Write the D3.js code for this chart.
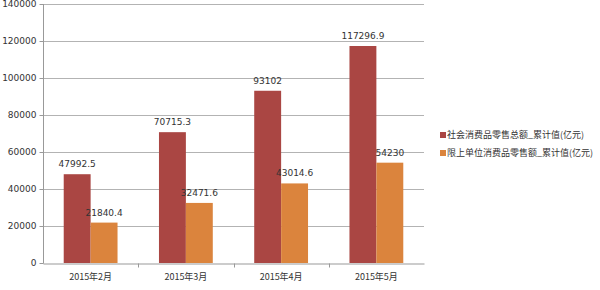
<meta charset="utf-8">
<head>
  <title>Grouped bars</title>
</head>
<style>
body { margin:0; background:#fff; }
text { font-family: "DejaVu Sans", sans-serif; fill:#333; }
.cjk { font-family: "Noto Sans CJK SC", sans-serif; }
</style>
<body>
<div id="content"></div>
<script src="https://cdnjs.cloudflare.com/ajax/libs/d3/7.8.5/d3.min.js"></script>
<script>

const width = 600
const height = 290

// data
var months = ["2015年2月", "2015年3月", "2015年4月", "2015年5月"];
var seriesNames = ["社会消费品零售总额_累计值(亿元)", "限上单位消费品零售额_累计值(亿元)"];
var totalRetail = [47992.5, 70715.3, 93102, 117296.9];
var aboveQuota = [21840.4, 32471.6, 43014.6, 54230];
var yTicks = [0, 20000, 40000, 60000, 80000, 100000, 120000, 140000];
var colors = ["#aa4643", "#db843d"];

var series = [totalRetail, aboveQuota];

var plotLeft = 43, plotRight = 424, plotTop = 4, plotBottom = 263;

const svg = d3.select('#content')
    .append('svg')
      .attr('width', width)
      .attr('height', height)

var x = d3.scaleBand()
  .domain(months)
  .range([plotLeft, plotRight])

var inner = d3.scaleBand()
  .domain([0, 1])
  .range([0, x.bandwidth()])
  .paddingOuter(0.77)
  .paddingInner(0)

var y = d3.scaleLinear()
  .domain([0, 140000])
  .range([plotBottom, plotTop])

// gridlines
svg.append('g')
  .selectAll('line')
  .data(yTicks.slice(1))
  .enter().append('line')
    .attr('x1', plotLeft).attr('x2', plotRight)
    .attr('y1', function(d) { return Math.round(y(d)) + 0.5 })
    .attr('y2', function(d) { return Math.round(y(d)) + 0.5 })
    .attr('stroke', '#b3b3b3')

// y axis
var yAxis = d3.axisLeft(y).tickValues(yTicks).tickSize(4).tickPadding(3).tickFormat(d3.format('d'))
var gy = svg.append('g').attr('transform', 'translate(' + (plotLeft + 0.5) + ',0)').call(yAxis)
gy.select('.domain').attr('stroke', '#999').attr('d', 'M0,' + (plotBottom + 0.5) + 'V' + plotTop)
gy.selectAll('.tick line').attr('stroke', '#999')
gy.selectAll('text').style('font-size', '9px').attr('fill', '#333')

// bars
var groups = svg.append('g')
  .selectAll('g')
  .data(series)
  .enter().append('g')
    .attr('fill', function(d, i) { return colors[i] })

groups.selectAll('rect')
  .data(function(d, i) { return d.map(function(v, j) { return { s: i, m: months[j], v: v } }) })
  .enter().append('rect')
    .attr('x', function(d) { return x(d.m) + inner(d.s) })
    .attr('width', inner.bandwidth())
    .attr('y', function(d) { return y(d.v) })
    .attr('height', function(d) { return y(0) - y(d.v) })

// value labels
groups.selectAll('text')
  .data(function(d, i) { return d.map(function(v, j) { return { s: i, m: months[j], v: v } }) })
  .enter().append('text')
    .attr('x', function(d) { return x(d.m) + inner(d.s) + inner.bandwidth() / 2 })
    .attr('y', function(d) { return y(d.v) - 7 })
    .attr('text-anchor', 'middle')
    .style('font-size', '9px')
    .style('fill', '#333')
    .text(function(d) { return d.v })

// x axis
var xAxis = d3.axisBottom(x).tickSize(0).tickPadding(10)
var gx = svg.append('g').attr('transform', 'translate(0,' + (plotBottom + 0.5) + ')').call(xAxis)
gx.select('.domain').attr('stroke', '#999')
gx.selectAll('text').attr('class', 'cjk').style('font-size', '9px').attr('fill', '#333')
gx.selectAll('.sep')
  .data(months.slice(1))
  .enter().append('line')
    .attr('x1', function(d) { return Math.round(x(d)) + 0.5 })
    .attr('x2', function(d) { return Math.round(x(d)) + 0.5 })
    .attr('y1', 0).attr('y2', 4)
    .attr('stroke', '#999')

// legend
var legend = svg.append('g')
  .selectAll('g')
  .data(seriesNames)
  .enter().append('g')
    .attr('transform', function(d, i) { return 'translate(440,' + (135 + i * 18) + ')' })

legend.append('rect')
  .attr('x', 0).attr('y', -3).attr('width', 6).attr('height', 6)
  .attr('fill', function(d, i) { return colors[i] })

legend.append('text')
  .attr('class', 'cjk')
  .attr('x', 7).attr('y', 0)
  .attr('dy', '0.35em')
  .style('font-size', '9px')
  .text(function(d) { return d })

</script>
</body>
</html>
